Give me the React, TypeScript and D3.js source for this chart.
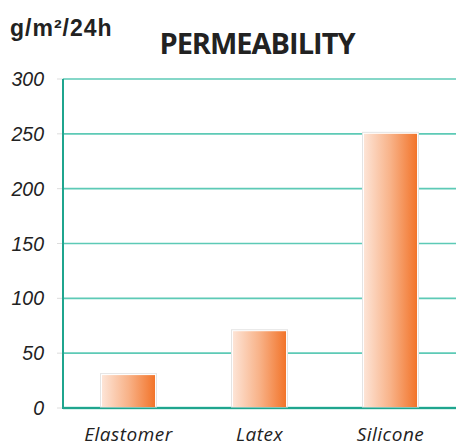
import React from "react";
import * as d3 from "d3";

const categories = ["Elastomer", "Latex", "Silicone"];
const values = [30, 70, 250];
const yTicks = [0, 50, 100, 150, 200, 250, 300];

const W = 456;
const H = 447;
const left = 63;
const right = 456;
const top = 79;
const bottom = 408;

export default function App() {
  const x = d3.scaleBand<string>().domain(categories).range([left, right]).paddingInner(0.595).paddingOuter(0.2975);
  const y = d3.scaleLinear().domain([0, 300]).range([bottom, top]);
  const bw = x.bandwidth();
  return (
    <svg width={W} height={H} style={{ position: "absolute", left: 0, top: 0, display: "block" }}>
      <defs>
        <linearGradient id="barGrad" x1="0" x2="1" y1="0" y2="0">
          <stop offset="0" stopColor="#fde4d6" />
          <stop offset="0.5" stopColor="#f8b288" />
          <stop offset="1" stopColor="#f2742a" />
        </linearGradient>
      </defs>
      <text x={10} y={36} fontFamily="Liberation Sans, Arial, sans-serif" fontWeight={700} fontSize={23} letterSpacing={1} fill="#222">g/m²/24h</text>
      <text x={257} y={54} textAnchor="middle" fontFamily="Open Sans, sans-serif" fontWeight={700} fontSize={29} fill="#222" letterSpacing={-1}>PERMEABILITY</text>
      {yTicks.map((t) => (
        <g key={t}>
          <line x1={left} x2={right} y1={y(t)} y2={y(t)} stroke="#5dcab6" strokeWidth={t === 0 ? 2.5 : 1.6} />
          <line x1={57} x2={left} y1={y(t)} y2={y(t)} stroke="#ddd" strokeWidth={1} />
          <text x={44} y={y(t) + 7} textAnchor="end" fontFamily="Liberation Sans, Arial, sans-serif" fontStyle="italic" fontSize={19.5} fill="#222">{t}</text>
        </g>
      ))}
      <line x1={left} x2={right} y1={bottom} y2={bottom} stroke="#1fa58e" strokeWidth={2} />
      <line x1={left} x2={left} y1={top} y2={bottom + 1} stroke="#1fa58e" strokeWidth={2} />
      {categories.map((c, i) => (
        <g key={c}>
          <rect x={x(c)! - 1.5} y={y(values[i]) - 1.5} width={bw + 3} height={bottom - y(values[i]) + 0.5} fill="#fff" stroke="#e4e4e4" strokeWidth={1} />
          <rect x={x(c)!} y={y(values[i])} width={bw} height={bottom - y(values[i]) - 1} fill="url(#barGrad)" />
          <text x={x(c)! + bw / 2} y={441} textAnchor="middle" fontFamily="Open Sans, sans-serif" fontStyle="italic" fontSize={19} letterSpacing={0.5} fill="#222">{c}</text>
        </g>
      ))}
    </svg>
  );
}
